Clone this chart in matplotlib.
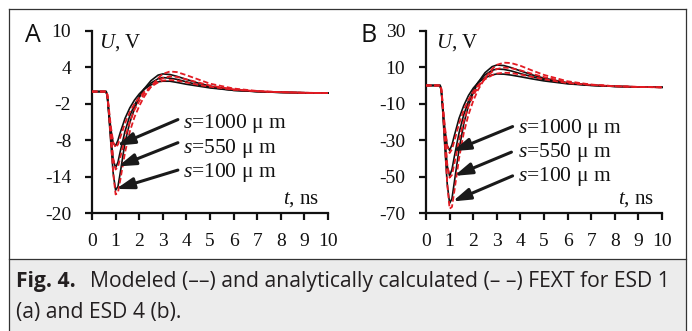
import matplotlib
matplotlib.use("Agg")
import matplotlib.pyplot as plt
from matplotlib.patches import Rectangle
from matplotlib.lines import Line2D

plt.rcParams['mathtext.fontset'] = 'custom'
plt.rcParams['mathtext.rm'] = 'Liberation Serif'
plt.rcParams['mathtext.it'] = 'Liberation Serif:italic'

# ---------------- data ----------------
t = [0, 0.6, 0.65, 0.7, 0.8, 0.9, 1.0, 1.1, 1.2, 1.4, 1.6, 1.8, 2.0, 2.2, 2.5,
     2.8, 3.0, 3.3, 3.6, 4.0, 4.5, 5.0, 6.0, 7.0, 8.0, 9.0, 10.0]

# Panel A (ESD 1)
a_model_100 = [0, 0, -0.8, -3.2, -8.5, -13.5, -16.2, -15.6, -13.3, -8.3, -5.1, -2.8, -1.0, 0.4, 1.8,
               2.7, 2.9, 2.8, 2.5, 2.0, 1.4, 0.9, 0.3, 0.0, -0.15, -0.2, -0.25]
a_calc_100 = [0, 0, -0.5, -2.6, -8.0, -13.5, -16.9, -16.6, -14.5, -10.0, -6.6, -4.2, -2.4, -0.9, 0.8,
              2.2, 2.9, 3.3, 3.2, 2.7, 2.0, 1.3, 0.5, 0.1, -0.1, -0.2, -0.25]
a_model_550 = [0, 0, -0.8, -3.0, -7.5, -11.2, -12.5, -11.6, -9.8, -6.5, -4.0, -2.2, -0.8, 0.3, 1.4,
               2.1, 2.3, 2.2, 2.0, 1.6, 1.1, 0.7, 0.2, 0.0, -0.15, -0.2, -0.25]
a_calc_550 = [0, 0, -0.5, -2.5, -7.0, -11.0, -12.8, -12.4, -10.8, -7.6, -5.0, -3.0, -1.6, -0.4, 0.8,
              1.8, 2.2, 2.5, 2.4, 2.0, 1.5, 1.0, 0.35, 0.05, -0.1, -0.2, -0.25]
a_model_1000 = [0, 0, -0.8, -2.6, -6.2, -8.5, -8.9, -8.0, -6.7, -4.4, -2.7, -1.4, -0.4, 0.4, 1.1,
                1.6, 1.7, 1.7, 1.5, 1.2, 0.9, 0.6, 0.2, 0.0, -0.1, -0.2, -0.25]
a_calc_1000 = [0, 0, -0.5, -2.2, -5.8, -8.3, -9.2, -8.7, -7.5, -5.2, -3.4, -2.0, -1.0, -0.1, 0.8,
               1.5, 1.8, 1.9, 1.8, 1.5, 1.1, 0.8, 0.3, 0.05, -0.1, -0.2, -0.25]

# Panel B (ESD 4)
b_model_100 = [0, 0, -3, -12, -34, -54, -64.5, -62, -53, -35, -21, -11, -4, 1.5, 7,
               10.3, 11.2, 10.9, 9.8, 8.0, 5.8, 4.0, 1.5, 0.2, -0.5, -0.8, -1.0]
b_calc_100 = [0, 0, -2, -10, -32, -54, -67.5, -66.5, -58, -40, -26, -16, -8.5, -2.5, 4,
              9.0, 11.3, 12.5, 12.3, 10.8, 8.2, 5.8, 2.3, 0.5, -0.4, -0.8, -1.0]
b_model_550 = [0, 0, -3, -11, -29, -44, -49.5, -46, -39, -26, -16, -8.5, -3, 1.5, 5.8,
               8.3, 9.0, 8.8, 8.0, 6.5, 4.8, 3.3, 1.2, 0.1, -0.5, -0.8, -1.0]
b_calc_550 = [0, 0, -2, -9.5, -27, -43, -50.5, -49, -43, -30, -19.5, -11.5, -5.5, -1, 4,
              7.5, 9.0, 9.8, 9.5, 8.3, 6.4, 4.6, 1.8, 0.4, -0.4, -0.8, -1.0]
b_model_1000 = [0, 0, -3, -10, -24, -33, -35.5, -32.5, -27.5, -18, -11, -5.5, -1.5, 1.5, 4.2,
                5.8, 6.3, 6.2, 5.7, 4.8, 3.6, 2.5, 0.9, 0.0, -0.5, -0.8, -1.0]
b_calc_1000 = [0, 0, -2, -8.5, -22.5, -33, -37, -35, -30.5, -21, -13.5, -7.8, -3.5, 0, 3.4,
               5.6, 6.5, 7.0, 6.8, 6.0, 4.7, 3.4, 1.3, 0.3, -0.4, -0.8, -1.0]

x_ticks = [0, 1, 2, 3, 4, 5, 6, 7, 8, 9, 10]
a_yticks = [-20, -14, -8, -2, 4, 10]
b_yticks = [-70, -50, -30, -10, 10, 30]
labels = ["1000", "550", "100"]

caption_bold = "Fig. 4."
caption_rest = "Modeled (––) and analytically calculated (– –) FEXT for ESD 1"
caption_line2 = "(a) and ESD 4 (b)."

# ---------------- figure ----------------
W, H = 692, 331
fig = plt.figure(figsize=(W / 100, H / 100), dpi=100)

def fx(x):
    return x / W

def fy(y):
    return 1 - y / H

# frame and caption box
fig.patches.append(Rectangle((fx(9), fy(331)), fx(686) - fx(9), fy(259) - fy(331),
                             transform=fig.transFigure, facecolor='#ececec',
                             edgecolor='none', zorder=0))
fig.add_artist(Line2D([fx(9), fx(9)], [fy(9), fy(331)], color='#333333', lw=0.9))
fig.add_artist(Line2D([fx(686), fx(686)], [fy(9), fy(331)], color='#333333', lw=0.9))
fig.add_artist(Line2D([fx(9), fx(686)], [fy(9.3), fy(9.3)], color='#333333', lw=0.9))
fig.add_artist(Line2D([fx(9), fx(686)], [fy(259), fy(259)], color='#333333', lw=0.9))

serif = 'Liberation Serif'
RED = '#e31b23'
BLK = '#111111'


def make_panel(x0, ylim, yticks, series, letter, letter_x, ulabel, tlabel, texts, arrows):
    ax = fig.add_axes([fx(x0), fy(213.3), 236 / W, (213.3 - 30.7) / H])
    ax.set_xlim(0, 10)
    ax.set_ylim(*ylim)
    for s in ['top', 'right']:
        ax.spines[s].set_visible(False)
    for s in ['left', 'bottom']:
        ax.spines[s].set_linewidth(1.6)
        ax.spines[s].set_color(BLK)
    ax.set_xticks(x_ticks)
    ax.set_yticks(yticks)
    ax.set_xticklabels([str(v) for v in x_ticks])
    ax.set_yticklabels([str(v) for v in yticks])
    ax.tick_params(axis='both', direction='out', length=5, width=1.6, color=BLK,
                   labelsize=14, labelcolor=BLK)
    ax.tick_params(axis='x', pad=9)
    ax.tick_params(axis='y', pad=10)
    for lab in ax.get_xticklabels() + ax.get_yticklabels():
        lab.set_fontfamily(serif)
    ax.patch.set_alpha(0)

    for model, calc in series:
        ax.plot(t, model, color=BLK, lw=1.2, zorder=3, clip_on=False)
    for model, calc in series:
        ax.plot(t, calc, color=RED, lw=1.3, ls=(0, (3, 1.5)), zorder=4, clip_on=False)

    ax.text(ulabel[0], ulabel[1], r'$U$, V', fontsize=15, family=serif,
            ha='left', va='center', color=BLK)
    ax.text(tlabel[0], tlabel[1], r'$t$, ns', fontsize=15, family=serif,
            ha='right', va='center', color=BLK)

    for (tx, ty), lab in zip(texts, labels):
        ax.text(tx, ty, r'$s$=' + lab + ' μ m', fontsize=15.5, family=serif,
                ha='left', va='baseline', color=BLK)
    for (tail, head) in arrows:
        ax.annotate('', xy=head, xytext=tail,
                    arrowprops=dict(arrowstyle='-|>,head_length=0.75,head_width=0.24',
                                    mutation_scale=14, color='#1a1a1a', lw=2.2,
                                    shrinkA=0, shrinkB=0), zorder=6)

    fig.text(fx(letter_x), fy(36), letter, fontsize=18, family='Open Sans',
             ha='center', va='center', color='#111111')
    return ax


make_panel(92, (-20, 10), a_yticks,
           [(a_model_100, a_calc_100), (a_model_550, a_calc_550), (a_model_1000, a_calc_1000)],
           'A', 33, (0.3, 8.0), (9.6, -17.8),
           [(3.87, -6.0), (3.87, -10.1), (3.87, -14.1)],
           [((3.64, -4.6), (1.05, -8.9)), ((3.64, -8.4), (1.1, -12.3)), ((3.64, -12.9), (1.02, -16.0))])

make_panel(426, (-70, 30), b_yticks,
           [(b_model_100, b_calc_100), (b_model_550, b_calc_550), (b_model_1000, b_calc_1000)],
           'B', 369, (0.42, 23.3), (9.66, -62.7),
           [(3.88, -26.0), (3.88, -39.3), (3.88, -52.5)],
           [((3.67, -22.5), (1.13, -36.0)), ((3.62, -36.5), (1.2, -49.5)), ((3.67, -49.5), (1.13, -63.5))])

# caption: size chosen so that the first line spans the caption width
cap_font = 'Open Sans'
cap_color = '#231f20'
fig.canvas.draw()
renderer = fig.canvas.get_renderer()
base = 12.0
probe1 = fig.text(0, 0, caption_bold, fontsize=base, family=cap_font, weight='bold')
probe2 = fig.text(0, 0, caption_rest, fontsize=base, family=cap_font)
w_total = (probe1.get_window_extent(renderer).width + 11 +
           probe2.get_window_extent(renderer).width)
probe1.remove()
probe2.remove()
cap_size = min(base * 654 / w_total, 16)

tb = fig.text(fx(16), fy(287), caption_bold, fontsize=cap_size, family=cap_font,
              weight='bold', ha='left', va='baseline', color=cap_color)
bb = tb.get_window_extent(renderer=renderer)
x_after = (bb.x1 + 11 * cap_size / base) / W
fig.text(x_after, fy(287), caption_rest, fontsize=cap_size, family=cap_font,
         ha='left', va='baseline', color=cap_color)
fig.text(fx(16), fy(318), caption_line2, fontsize=cap_size, family=cap_font,
         ha='left', va='baseline', color=cap_color)

fig.savefig('out.png', dpi=100)
